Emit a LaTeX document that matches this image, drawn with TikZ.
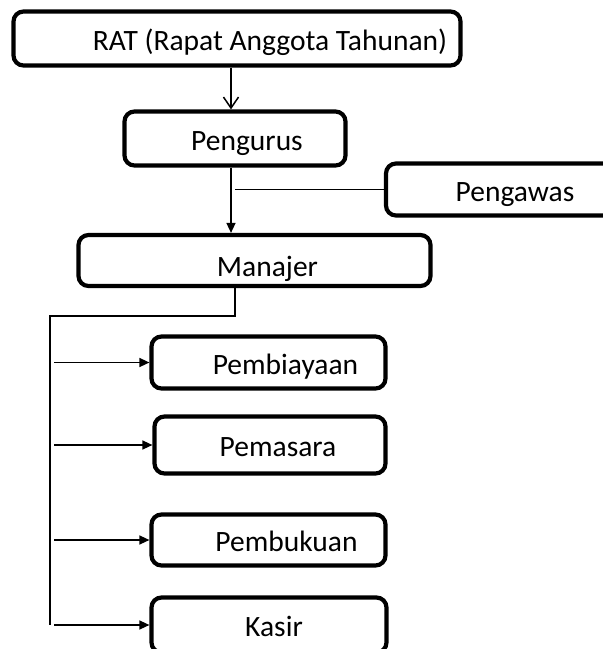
\documentclass[tikz,border=0pt]{standalone}
\usepackage{fontspec}
\setmainfont{Carlito}
\usetikzlibrary{arrows.meta}

\begin{document}
\begin{tikzpicture}[x=1pt,y=-1pt,
    box/.style={draw,line width=4.2pt,rounded corners=10pt,inner sep=0pt,
      text height=29pt,text depth=6pt,font=\fontsize{29.5}{31}\selectfont},
    link/.style={line width=1.5pt},
    tri/.style={link,-{Triangle[length=10pt,width=9pt]}}]
  \clip (0,0) rectangle (603,649);
  % boxes
  \node[box,minimum width=447pt,minimum height=54pt] (rat) at (237,38.5) {\hspace*{66pt}RAT (Rapat Anggota Tahunan)};
  \node[box,minimum width=221pt,minimum height=54pt] (pengurus) at (235,138.5) {\hspace*{24pt}Pengurus};
  \node[box,minimum width=274pt,minimum height=52pt] (pengawas) at (523,189.5) {Pengawas\hspace*{16pt}};
  \node[box,minimum width=352pt,minimum height=51pt,text height=34pt,text depth=2pt] (manajer) at (254.5,260.5) {\hspace*{26pt}Manajer};
  \node[box,minimum width=234pt,minimum height=52pt] (pembiayaan) at (268.5,362.5) {\hspace*{34pt}Pembiayaan};
  \node[box,minimum width=231pt,minimum height=57pt] (pemasara) at (270,445) {\hspace*{16pt}Pemasara};
  \node[box,minimum width=234pt,minimum height=51pt] (pembukuan) at (268.5,540) {\hspace*{36pt}Pembukuan};
  \node[box,minimum width=235pt,minimum height=55pt] (kasir) at (269,625) {\hspace*{10pt}Kasir};
  % connectors
  \coordinate (spine) at (231,0);
  \coordinate (tee) at (235,0);
  \coordinate (bus) at (50,316);
  \coordinate (tap) at (54,0);
  \draw[link,-{Straight Barb[length=11pt,width=15pt]}] (rat.south -| spine) -- (pengurus.north -| spine);
  \draw[tri] (pengurus.south -| spine) -- (manajer.north -| spine);
  \draw[link] (pengawas.west) -- (pengawas.west -| tee);
  \draw[link] (manajer.south -| tee) |- (bus) -- (bus |- kasir.west);
  \foreach \n in {pembiayaan,pemasara,pembukuan,kasir}
    \draw[tri] (\n.west -| tap) -- (\n.west);
\end{tikzpicture}
\end{document}
